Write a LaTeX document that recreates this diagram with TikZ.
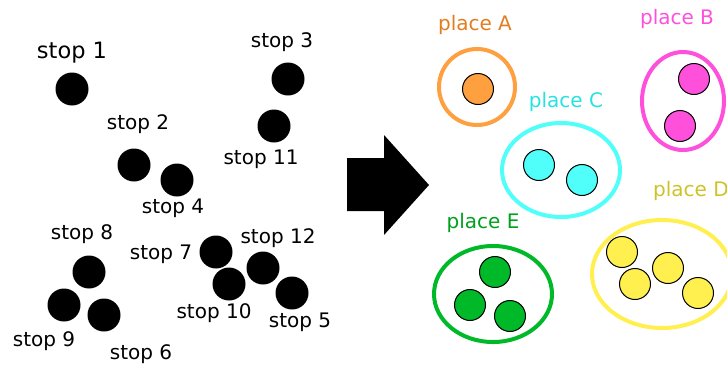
\documentclass[tikz,border=0pt]{standalone}
\usepackage{fontspec}
\setmainfont{DejaVu Sans}
\usepackage{tikz}
\definecolor{placeorange}{RGB}{255,160,64}
\definecolor{placemagenta}{RGB}{255,80,220}
\definecolor{placecyan}{RGB}{80,255,250}
\definecolor{placeyellow}{RGB}{255,240,80}
\definecolor{placegreen}{RGB}{0,185,40}

\begin{document}
\begin{tikzpicture}[x=1pt,y=-1pt,
    stopdot/.style={circle,fill=black,inner sep=0pt,minimum size=33pt},
    stoptext/.style={inner sep=0pt,font=\fontsize{20}{24}\selectfont},
    placedot/.style={circle,draw=black,line width=1pt,inner sep=0pt,minimum size=31pt},
    placering/.style={line width=4pt},
    placetext/.style={inner sep=0pt,font=\fontsize{20}{24}\selectfont}]
      \useasboundingbox (0,0) rectangle (727,365);
      % stops
      \node[stopdot] (s1)  at ( 72, 89) {};
      \node[stopdot] (s2)  at (134,165) {};
      \node[stopdot] (s3)  at (288, 79) {};
      \node[stopdot] (s4)  at (177,180) {};
      \node[stopdot] (s5)  at (292,293) {};
      \node[stopdot] (s6)  at (104,315) {};
      \node[stopdot] (s7)  at (216,252) {};
      \node[stopdot] (s8)  at ( 89,272) {};
      \node[stopdot] (s9)  at ( 64,305) {};
      \node[stopdot] (s10) at (229,284) {};
      \node[stopdot] (s11) at (274,126) {};
      \node[stopdot] (s12) at (263,268) {};
      \node[stoptext,font=\fontsize{22.5}{26}\selectfont] (t1) at (72,53) {stop 1};
      \node[stoptext] (t2)  at (138,124) {stop 2};
      \node[stoptext] (t3)  at (282, 42) {stop 3};
      \node[stoptext] (t4)  at (173,208) {stop 4};
      \node[stoptext] (t5)  at (300,322) {stop 5};
      \node[stoptext] (t6)  at (141,354) {stop 6};
      \node[stoptext] (t7)  at (161,254) {stop 7};
      \node[stoptext] (t8)  at ( 82,234) {stop 8};
      \node[stoptext] (t9)  at ( 44,341) {stop 9};
      \node[stoptext] (t10) at (214,313) {stop 10};
      \node[stoptext] (t11) at (261,159) {stop 11};
      \node[stoptext] (t12) at (278,238) {stop 12};
      % big arrow
      \fill (347,158) -- (384,158) -- (384,135) -- (429,185) -- (384,235)
            -- (384,211) -- (347,211) -- cycle;
      % places
      \draw[placering,color=placeorange]  (477, 87) ellipse (38pt and 38pt);
      \draw[placering,color=placemagenta] (683,101) ellipse (41pt and 49pt);
      \draw[placering,color=placecyan]    (561,170) ellipse (59pt and 47pt);
      \draw[placering,color=placeyellow]  (662,274) ellipse (70pt and 54pt);
      \draw[placering,color=placegreen]   (493,294) ellipse (59pt and 48pt);
      \node[placedot,fill=placeorange]  (a1) at (478, 89) {};
      \node[placedot,fill=placemagenta] (b1) at (694, 79) {};
      \node[placedot,fill=placemagenta] (b2) at (680,126) {};
      \node[placedot,fill=placecyan]    (c1) at (539,165) {};
      \node[placedot,fill=placecyan]    (c2) at (582,180) {};
      \node[placedot,fill=placeyellow]  (d1) at (622,252) {};
      \node[placedot,fill=placeyellow]  (d2) at (635,284) {};
      \node[placedot,fill=placeyellow]  (d3) at (668,268) {};
      \node[placedot,fill=placeyellow]  (d4) at (698,293) {};
      \node[placedot,fill=placegreen]   (e1) at (495,272) {};
      \node[placedot,fill=placegreen]   (e2) at (470,305) {};
      \node[placedot,fill=placegreen]   (e3) at (510,316) {};
      \node[placetext,text={rgb,255:red,225;green,125;blue,30}]  (pa) at (475, 25) {place A};
      \node[placetext,text=placemagenta]                          (pb) at (677, 19) {place B};
      \node[placetext,text={rgb,255:red,40;green,225;blue,225}]  (pc) at (566,102) {place C};
      \node[placetext,text={rgb,255:red,205;green,195;blue,40},anchor=west] (pd) at (653,191) {place D};
      \node[placetext,text={rgb,255:red,0;green,160;blue,30}]    (pe) at (483,223) {place E};
\end{tikzpicture}
\end{document}
